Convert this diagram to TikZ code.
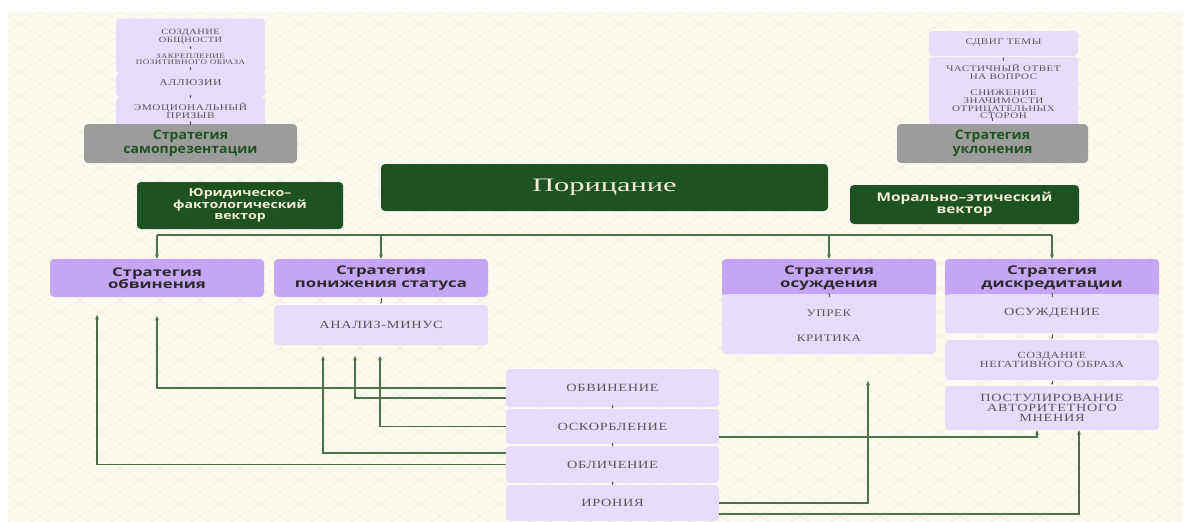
\documentclass[tikz,border=0pt]{standalone}
\usepackage{fontspec}
\usetikzlibrary{arrows.meta}
\setmainfont{Liberation Serif}
\newfontfamily\labfont[FakeStretch=1.3,LetterSpace=6]{Liberation Serif}
\newfontfamily\titlefont[FakeStretch=1.6]{Liberation Serif}
\newfontfamily\sansbold[FakeStretch=1.4]{Open Sans}
\newfontfamily\sansgreen[FakeStretch=1.28]{Open Sans}
\newfontfamily\sansgray[FakeStretch=1.08]{Open Sans}
\definecolor{bgcream}{HTML}{FCFAEE}
\definecolor{gridc}{HTML}{ECE8DA}
\definecolor{dkgreen}{HTML}{1F5223}
\definecolor{strat}{HTML}{C4A6F5}
\definecolor{lite}{HTML}{E8DCFC}
\definecolor{grayb}{HTML}{9C9C9C}
\definecolor{connc}{HTML}{4C7246}
\definecolor{labc}{HTML}{585858}
\definecolor{strtext}{HTML}{2B2B2B}
\definecolor{creamtxt}{HTML}{F2EED5}
\tikzset{
  box/.style={rounded corners=4pt, inner sep=0pt, align=center},
  stratbox/.style={box, fill=strat, minimum width=214pt, minimum height=38pt, text=strtext,
    font={\sansbold\bfseries\fontsize{12}{12.5}\selectfont}},
  subbox/.style={box, fill=lite, text=labc},
  graybox/.style={box, fill=grayb, text=dkgreen,
    font={\sansgray\bfseries\fontsize{13}{13.5}\selectfont}},
  greenbox/.style={box, fill=dkgreen, text=creamtxt,
    font={\sansgreen\bfseries\fontsize{11}{11}\selectfont}},
  lab/.style={inner sep=0.5pt, align=center, text=labc},
  ls/.style={font={\labfont\fontsize{#1}{#1}\selectfont}},
  lsl/.style 2 args={font={\labfont\fontsize{#1}{#2}\selectfont}},
  arr/.style={draw=connc, line width=1.1pt, -{Stealth[length=4.5pt,width=4pt]}},
  bus/.style={draw=connc, line width=1.1pt},
  tiny/.style={draw=labc, line width=0.5pt, -{Stealth[length=1.8pt,width=1.8pt]}}
}
\begin{document}
\begin{tikzpicture}[x=1pt,y=-1pt]
\useasboundingbox (0,0) rectangle (1189,522);
\fill[white] (0,0) rectangle (1189,522);
\fill[bgcream] (8,12) rectangle (1183,522);
\begin{scope}
\clip (8,12) rectangle (1183,522);
\foreach \k in {-880,-840,...,2080} {
  \draw[gridc, line width=0.5pt] (\k,12) -- ++(850,510);
  \draw[gridc, line width=0.5pt] (\k,12) -- ++(-850,510);
}
\end{scope}

% self-presentation stack
\node[subbox, minimum width=149pt, minimum height=55pt] (sp1) at (190.5,46) {};
\node[subbox, minimum width=149pt, minimum height=24pt] (sp2) at (190.5,85) {};
\node[subbox, minimum width=149pt, minimum height=34pt] (sp3) at (190.5,114) {};
\node[graybox, minimum width=213pt, minimum height=39pt] (gsp) at (190.5,143.5) {Стратегия\\самопрезентации};
\node[lab, lsl={8}{7.5}] (spt1) at (190.5,36.5) {СОЗДАНИЕ\\ОБЩНОСТИ};
\node[lab, lsl={7}{6.5}] (spt2) at (190.5,59) {ЗАКРЕПЛЕНИЕ\\ПОЗИТИВНОГО ОБРАЗА};
\node[lab, ls=9] (spt3) at (190.5,83) {АЛЛЮЗИИ};
\node[lab, lsl={8.7}{8.5}] (spt4) at (190.5,111) {ЭМОЦИОНАЛЬНЫЙ\\ПРИЗЫВ};
\draw[tiny] ([yshift=-5pt]spt1.south) -- ([yshift=-1.5pt]spt1.south);
\draw[tiny] ([yshift=-5pt]spt2.south) -- ([yshift=-1.5pt]spt2.south);
\draw[tiny] ([yshift=4pt]spt4.north) -- ([yshift=7.5pt]spt4.north);
\draw[tiny] ([yshift=-5pt]spt4.south) -- ([yshift=-1.5pt]spt4.south);

% evasion stack
\node[subbox, minimum width=149pt, minimum height=25pt] (ev1) at (1003.5,43.5) {};
\node[subbox, minimum width=149pt, minimum height=70pt] (ev2) at (1003.5,92) {};
\node[graybox, minimum width=191pt, minimum height=39pt] (gev) at (992.5,143.5) {Стратегия\\уклонения};
\node[lab, ls=8.5] (evt1) at (1003.5,43) {СДВИГ ТЕМЫ};
\node[lab, lsl={8.5}{8}] (evt2) at (1003.5,72) {ЧАСТИЧНЫЙ ОТВЕТ\\НА ВОПРОС};
\node[lab, lsl={8.5}{7.6}] (evt3) at (1003.5,104.5) {СНИЖЕНИЕ\\ЗНАЧИМОСТИ\\ОТРИЦАТЕЛЬНЫХ\\СТОРОН};
\draw[tiny] ([yshift=-4pt]ev2.north) -- ([yshift=-0.5pt]ev2.north);
\draw[tiny] ([yshift=3pt]gev.north) -- ([yshift=6.5pt]gev.north);

% top level
\node[greenbox, minimum width=206pt, minimum height=47pt] (jur) at (240,205.5) {Юридическо–\\фактологический\\вектор};
\node[greenbox, minimum width=447pt, minimum height=47pt, font={\titlefont\fontsize{19}{19}\selectfont}] (por) at (604.5,187.5) {Порицание};
\node[greenbox, minimum width=229pt, minimum height=39pt, font={\sansgreen\bfseries\fontsize{12}{11.5}\selectfont}] (mor) at (964.5,204.5) {Морально–этический\\вектор};

% strategies
\node[stratbox] (s1) at (157,278) {Стратегия\\обвинения};
\node[stratbox] (s2) at (381,278) {Стратегия\\понижения статуса};
\node[stratbox] (s3) at (829,278) {Стратегия\\осуждения};
\node[stratbox] (s4) at (1052,278) {Стратегия\\дискредитации};

\coordinate (busL) at (157,235);
\coordinate (busR) at (1052,235);
\draw[bus] (busL) -- (busR);
\draw[arr] (busL) -- (s1.north);
\draw[arr] (s2.north |- busL) -- (s2.north);
\draw[arr] (s3.north |- busL) -- (s3.north);
\draw[arr] (busR) -- (s4.north);

% sub boxes
\node[subbox, minimum width=214pt, minimum height=40pt, ls=11] (anal) at (381,325) {АНАЛИЗ-МИНУС};
\draw[tiny] ([yshift=-1pt]s2.south) -- ([yshift=1pt]anal.north);

\node[subbox, minimum width=214pt, minimum height=60pt] (osub) at (829,324) {};
\node[lab, ls=10] (osut1) at (829,313) {УПРЕК};
\node[lab, ls=10] (osut2) at (829,338) {КРИТИКА};
\draw[tiny] ([yshift=-3pt]osub.north) -- ([yshift=1pt]osub.north);

\node[subbox, minimum width=214pt, minimum height=39pt, ls=11] (dis1) at (1052,313.5) {ОСУЖДЕНИЕ};
\node[subbox, minimum width=214pt, minimum height=40pt, lsl={9.4}{9}] (dis2) at (1052,360) {СОЗДАНИЕ\\НЕГАТИВНОГО ОБРАЗА};
\node[subbox, minimum width=214pt, minimum height=44pt, lsl={11}{10}] (dis3) at (1052,408) {ПОСТУЛИРОВАНИЕ\\АВТОРИТЕТНОГО\\МНЕНИЯ};
\draw[tiny] ([yshift=-3pt]dis1.north) -- ([yshift=1pt]dis1.north);
\draw[tiny] ([yshift=-1pt]dis1.south) -- ([yshift=1pt]dis2.north);
\draw[tiny] ([yshift=-1pt]dis2.south) -- ([yshift=1pt]dis3.north);

% bottom stack
\node[subbox, minimum width=213pt, minimum height=38pt, ls=11] (b1) at (612.5,388) {ОБВИНЕНИЕ};
\node[subbox, minimum width=213pt, minimum height=35pt, ls=11] (b2) at (612.5,426.5) {ОСКОРБЛЕНИЕ};
\node[subbox, minimum width=213pt, minimum height=37pt, ls=11] (b3) at (612.5,464.5) {ОБЛИЧЕНИЕ};
\node[subbox, minimum width=213pt, minimum height=36pt, ls=11] (b4) at (612.5,503) {ИРОНИЯ};
\draw[tiny] ([yshift=2pt]b1.south) -- ([yshift=-1.5pt]b1.south);
\draw[tiny] ([yshift=-2pt]b2.south) -- ([yshift=1.5pt]b2.south);
\draw[tiny] ([yshift=-2pt]b3.south) -- ([yshift=1.5pt]b3.south);

% free ends
\coordinate (e0) at (97,315);
\coordinate (e1) at (157,316);
\coordinate (e2) at (355,356);
\coordinate (e3) at (380,356);
\coordinate (e4) at (323,356);
\coordinate (e5) at (868,381);
\draw[arr] (b3.west) -| (e0);
\draw[arr] (b1.west) -| (e1);
\draw[arr] ([yshift=-10pt]b1.west) -| (e2);
\draw[arr] (b2.west) -| (e3);
\draw[arr] ([yshift=11.5pt]b3.west) -| (e4);
\draw[arr] ([yshift=-10.5pt]b2.east) -| ([xshift=-15pt]dis3.south);
\draw[arr] (b4.east) -| (e5);
\draw[arr] ([yshift=-11pt]b4.east) -| ([xshift=27pt]dis3.south);
\end{tikzpicture}
\end{document}
